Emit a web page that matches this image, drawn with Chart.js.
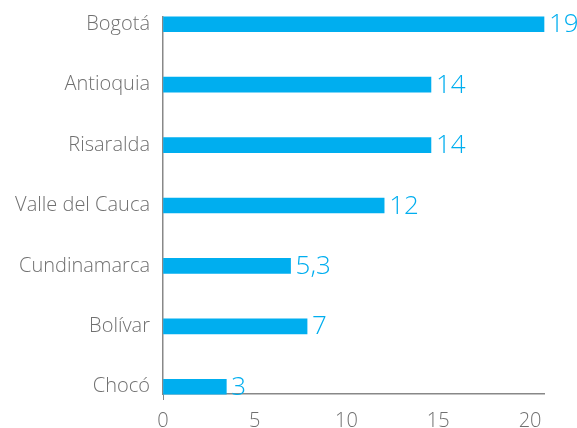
<!DOCTYPE html>
<html>
<head>
<meta charset="utf-8">
<script src="https://cdn.jsdelivr.net/npm/chart.js@4.4.1/dist/chart.umd.min.js"></script>
<style>
  html, body { margin: 0; padding: 0; background: #fff; }
  #wrap { width: 577px; height: 428px; }
</style>
</head>
<body>
<div id="wrap"><canvas id="chart" width="577" height="428"></canvas></div>
<script>
// Departments, top to bottom
const departments = ['Bogotá', 'Antioquia', 'Risaralda', 'Valle del Cauca', 'Cundinamarca', 'Bolívar', 'Chocó'];
// Bar lengths as read against the x axis of the picture
const barLengths = [20.76, 14.6, 14.6, 12.05, 6.95, 7.85, 3.45];
// Value labels printed at the bar ends
const valueLabels = ['19', '14', '14', '12', '5,3', '7', '3'];
const xTicks = [0, 5, 10, 15, 20];

const BLUE = '#00AEEF';
const FONT = '"Open Sans", "Noto Sans", sans-serif';

const valueLabelPlugin = {
    id: 'valueLabels',
    afterDatasetsDraw(chart) {
        const ctx = chart.ctx;
        const meta = chart.getDatasetMeta(0);
        ctx.save();
        ctx.fillStyle = BLUE;
        ctx.font = '300 26px ' + FONT;
        ctx.textAlign = 'left';
        ctx.textBaseline = 'alphabetic';
        meta.data.forEach((bar, i) => {
            ctx.fillText(valueLabels[i], bar.x + 5, bar.y + 8);
        });
        ctx.restore();
    }
};

new Chart(document.getElementById('chart'), {
    type: 'bar',
    data: {
        datasets: [{
            data: departments.map((d, i) => ({ x: barLengths[i], y: i })),
            backgroundColor: BLUE,
            barThickness: 15,
            borderWidth: 0,
            clip: false
        }]
    },
    options: {
        indexAxis: 'y',
        responsive: false,
        animation: false,
        layout: { padding: { top: 17, right: 33, left: 0, bottom: 0 } },
        plugins: {
            legend: { display: false },
            tooltip: { enabled: false }
        },
        scales: {
            x: {
                type: 'linear',
                min: 0,
                max: 20.76,
                afterFit: s => { s.height = 34; },
                afterBuildTicks: s => { s.ticks = xTicks.map(v => ({ value: v })); },
                ticks: {
                    color: '#707070',
                    font: { family: FONT, size: 20, weight: 300 },
                    padding: 9
                },
                grid: {
                    drawOnChartArea: false,
                    tickLength: 6,
                    color: c => c.index === 0 ? '#888' : 'rgba(0,0,0,0)'
                },
                border: { color: '#888', width: 1.5 }
            },
            y: {
                type: 'linear',
                reverse: true,
                offset: false,
                min: -0.12,
                max: 6.12,
                afterFit: s => { s.width = 163; s.paddingTop = 0; s.paddingBottom = 0; },
                afterBuildTicks: s => { s.ticks = departments.map((d, i) => ({ value: i })); },
                ticks: {
                    color: '#707070',
                    font: { family: FONT, size: 20, weight: 300 },
                    padding: 13,
                    callback: v => departments[v]
                },
                grid: { drawOnChartArea: false, drawTicks: false },
                border: { color: '#888', width: 1.5 }
            }
        }
    },
    plugins: [valueLabelPlugin]
});
</script>
</body>
</html>
